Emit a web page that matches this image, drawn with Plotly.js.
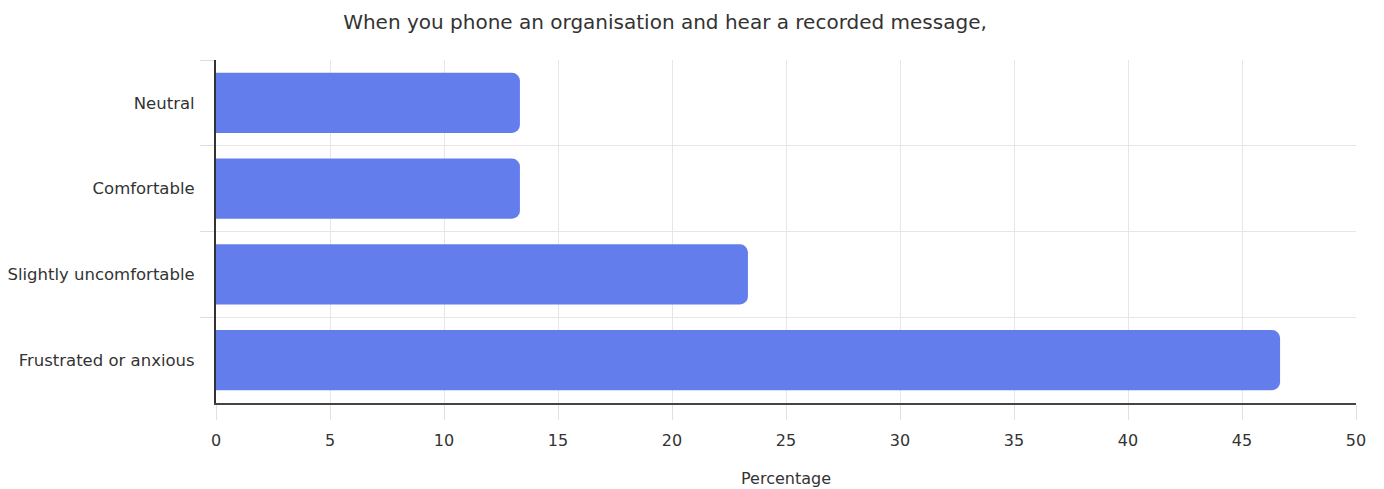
<!DOCTYPE html>
<html>
<head>
<meta charset="utf-8">
<script src="https://cdn.plot.ly/plotly-3.0.1.min.js"></script>
<style>html,body{margin:0;padding:0;background:#fff;}#chart{width:1384px;height:489px;}</style>
</head>
<body>
<div id="chart"></div>
<script>
const categories = ["Neutral", "Comfortable", "Slightly uncomfortable", "Frustrated or anxious"];
const percentages = [13.33, 13.33, 23.33, 46.67];
const xTicks = [0, 5, 10, 15, 20, 25, 30, 35, 40, 45, 50];

const trace = {
  type: 'bar',
  orientation: 'h',
  x: percentages,
  y: categories,
  marker: { color: '#637ded', cornerradius: 8 },
  hoverinfo: 'x+y'
};

const layout = {
  width: 1384,
  height: 489,
  paper_bgcolor: '#ffffff',
  plot_bgcolor: '#ffffff',
  margin: { l: 216, r: 28, t: 60, b: 86 },
  bargap: 0.3,
  showlegend: false,
  font: { family: 'DejaVu Sans, sans-serif', size: 16, color: '#333333' },
  title: {
    text: 'When you phone an organisation and hear a recorded message,',
    font: { family: 'DejaVu Sans, sans-serif', size: 20, color: '#333333' },
    x: 665 / 1384,
    xanchor: 'center',
    xref: 'container',
    y: 1 - 22 / 489,
    yanchor: 'middle',
    yref: 'container'
  },
  xaxis: {
    range: [0, 50],
    tickvals: xTicks,
    ticktext: xTicks.map(String),
    showgrid: true,
    gridcolor: '#e6e6e6',
    gridwidth: 1,
    zeroline: false,
    showline: true,
    linecolor: '#444444',
    linewidth: 2,
    ticks: 'outside',
    ticklen: 15,
    tickcolor: '#e0e0e0',
    tickwidth: 1,
    ticklabelstandoff: 7,
    tickfont: { size: 16, color: '#333333' },
    title: { text: 'Percentage', font: { size: 16, color: '#333333' }, standoff: 24 },
    fixedrange: true
  },
  yaxis: {
    type: 'category',
    autorange: 'reversed',
    tickson: 'boundaries',
    showgrid: true,
    gridcolor: '#e6e6e6',
    gridwidth: 1,
    showline: true,
    linecolor: '#333333',
    linewidth: 2,
    ticks: 'outside',
    ticklen: 14,
    tickcolor: '#dddddd',
    tickwidth: 1,
    ticklabelstandoff: 16,
    tickfont: { size: 16.5, color: '#333333' },
    fixedrange: true
  }
};

Plotly.newPlot('chart', [trace], layout, { displayModeBar: false, staticPlot: true });
</script>
</body>
</html>
